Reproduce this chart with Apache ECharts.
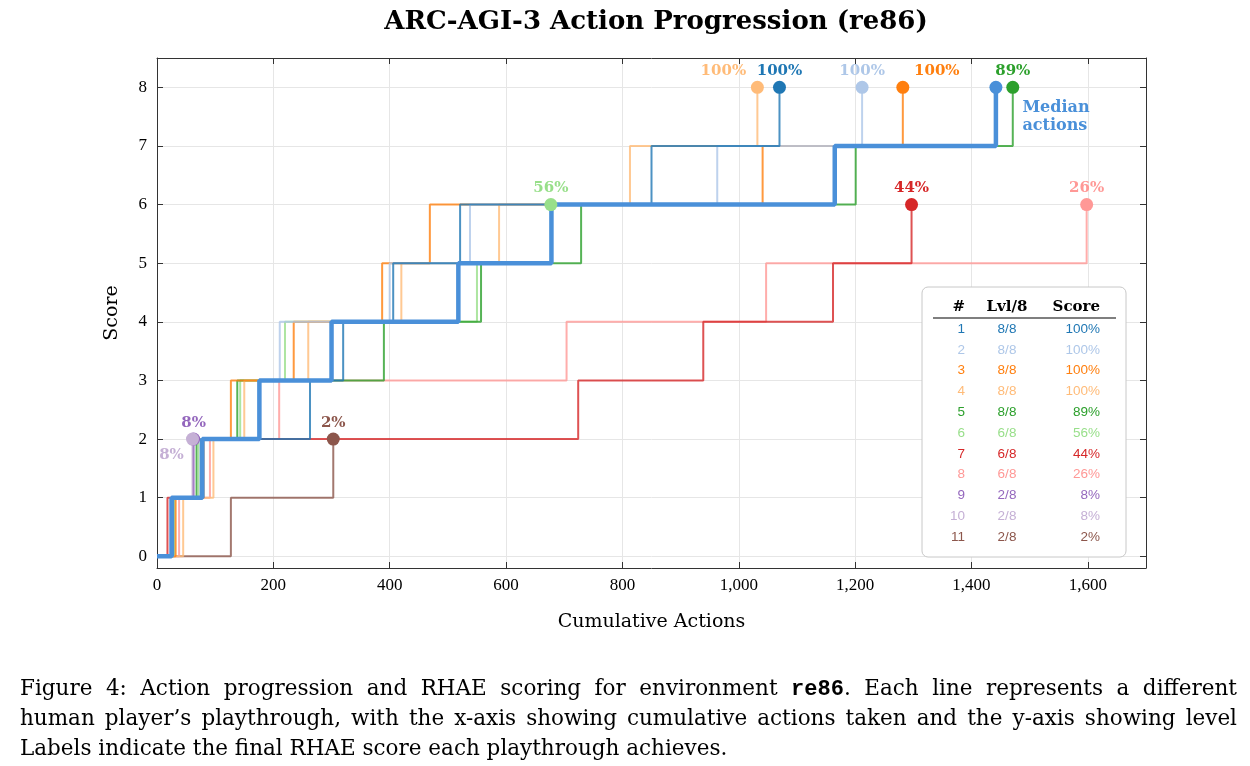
<!DOCTYPE html>
<html>
<head>
<meta charset="utf-8">
<script src="https://cdn.jsdelivr.net/npm/echarts@6.0.0/dist/echarts.min.js"></script>
<style>
  html, body { margin: 0; padding: 0; background: #fff; }
  #chart { width: 1250px; height: 766px; }
  .cap { position: absolute; left: 20px; width: 1217px; font-family: 'DejaVu Serif', serif; font-size: 21.5px; line-height: 30px; color: #000; white-space: nowrap; }
  .just { text-align: justify; text-align-last: justify; }
  .tt { font-family: 'Liberation Mono', monospace; font-weight: bold; font-size: 22px; }
</style>
</head>
<body>
<div id="chart"></div>
<div class="cap just" style="top:673px">Figure 4: Action progression and RHAE scoring for environment <span class="tt">re86</span>. Each line represents a different</div>
<div class="cap just" style="top:703px">human player’s playthrough, with the x-axis showing cumulative actions taken and the y-axis showing level</div>
<div class="cap" style="top:733px">Labels indicate the final RHAE score each playthrough achieves.</div>
<script>
// tick labels
const xTicks = [0, 200, 400, 600, 800, 1000, 1200, 1400, 1600]
const yTicks = [0, 1, 2, 3, 4, 5, 6, 7, 8]

// cumulative actions at which level 1, 2, 3 ... was reached
const p1 = [27, 76, 263, 320, 406, 521, 850, 1070]
const p2 = [28, 74, 175, 211, 400, 538, 963, 1212]
const p3 = [32, 80, 127, 235, 387, 469, 1041, 1282]
const p4 = [45, 97, 150, 260, 420, 588, 813, 1032]
const p5 = [28, 68, 138, 390, 557, 729, 1201, 1471]
const p6 = [30, 72, 143, 220, 550, 677]
const p7 = [18, 78, 724, 939, 1162, 1297]
const p8 = [38, 91, 210, 704, 1047, 1598]
const p9 = [25, 63]
const p10 = [24, 61]
const p11 = [127, 303]
const median = [25, 78, 176, 300, 518, 678, 1165, 1442]

const players = [p1, p2, p3, p4, p5, p6, p7, p8, p9, p10, p11]
const playerIds = ['1', '2', '3', '4', '5', '6', '7', '8', '9', '10', '11']
const scores = ['100%', '100%', '100%', '100%', '89%', '56%', '44%', '26%', '8%', '8%', '2%']

const colors = ['#1f77b4', '#aec7e8', '#ff7f0e', '#ffbb78', '#2ca02c', '#98df8a',
  '#d62728', '#ff9896', '#9467bd', '#c5b0d5', '#8c564b']
const medianColor = '#4a90d9'

// label nudges so the end labels do not collide
const labelOffsets = { 2: [34, 0], 3: [-34, 0], 9: [-21, 32] }

const toSteps = (steps) => [[0, 0]].concat(steps.map((x, i) => [x, i + 1]))

const serif = '"DejaVu Serif", serif'
const axisColor = '#333'

const lineSeries = players.map((steps, i) => ({
  name: 'Player ' + playerIds[i],
  type: 'line',
  step: 'end',
  symbol: 'none',
  z: 2,
  lineStyle: { color: colors[i], width: 2, opacity: 0.8 },
  data: toSteps(steps)
}))

const endPoints = {
  type: 'scatter',
  symbolSize: 13,
  z: 5,
  data: players.map((steps, i) => ({
    value: [steps[steps.length - 1], steps.length],
    itemStyle: { color: colors[i], opacity: 1 },
    label: {
      show: true,
      position: 'top',
      distance: 2,
      formatter: scores[i],
      color: colors[i],
      offset: labelOffsets[i] || [0, 0],
      fontFamily: serif,
      fontWeight: 'bold',
      fontSize: 15
    }
  }))
}

const medianSeries = [
  {
    name: 'Median',
    type: 'line',
    step: 'end',
    symbol: 'none',
    z: 3,
    lineStyle: { color: medianColor, width: 4.5 },
    data: toSteps(median)
  },
  {
    type: 'scatter',
    symbolSize: 13,
    z: 5,
    itemStyle: { color: medianColor, opacity: 1 },
    label: {
      show: true,
      position: 'right',
      distance: 5,
      offset: [15, 30],
      formatter: 'Median\nactions',
      color: medianColor,
      align: 'left',
      lineHeight: 18,
      fontFamily: serif,
      fontWeight: 'bold',
      fontSize: 16
    },
    data: [[median[median.length - 1], median.length]]
  }
]

// score table
const tbl = { left: 922, top: 287, width: 204, height: 270, rowTop: 329, rowGap: 20.8 }
const txt = (text, x, y, align, fill, font) => ({
  type: 'text', z: 101,
  style: { text, x, y, fill, font, align, verticalAlign: 'middle', textAlign: align, textVerticalAlign: 'middle' }
})
const headFont = 'bold 15px "DejaVu Serif"'
const cellFont = '13.5px "Liberation Sans"'
const tableGraphic = [
  { type: 'rect', z: 100, shape: { x: tbl.left, y: tbl.top, width: tbl.width, height: tbl.height, r: 6 },
    style: { fill: '#fff', stroke: '#c8c8c8', lineWidth: 1 } },
  txt('#', 965, 307, 'right', '#000', headFont),
  txt('Lvl/8', 1007, 307, 'center', '#000', headFont),
  txt('Score', 1100, 307, 'right', '#000', headFont),
  { type: 'line', z: 101, shape: { x1: 933, y1: 318, x2: 1116, y2: 318 }, style: { stroke: '#000', lineWidth: 1.2 } }
]
players.forEach((steps, i) => {
  const y = tbl.rowTop + i * tbl.rowGap
  tableGraphic.push(txt(playerIds[i], 965, y, 'right', colors[i], cellFont))
  tableGraphic.push(txt(steps.length + '/8', 1007, y, 'center', colors[i], cellFont))
  tableGraphic.push(txt(scores[i], 1100, y, 'right', colors[i], cellFont))
})

const baseAxis = {
  type: 'value',
  axisLine: { show: true, onZero: false, lineStyle: { color: axisColor, width: 1 } },
  axisTick: { show: true, inside: true, length: 6, lineStyle: { color: axisColor } }
}

const chart = echarts.init(document.getElementById('chart'), null, { renderer: 'canvas' })
chart.setOption({
  backgroundColor: '#fff',
  animation: false,
  title: {
    text: 'ARC-AGI-3 Action Progression (re86)',
    left: 651,
    top: 4,
    textAlign: 'center',
    textStyle: { fontFamily: serif, fontWeight: 'bold', fontSize: 26, color: '#000' }
  },
  grid: { left: 157, right: 104, top: 58, bottom: 198 },
  xAxis: [
    {
      ...baseAxis,
      position: 'bottom',
      min: 0,
      max: 1700,
      axisTick: { ...baseAxis.axisTick, customValues: xTicks },
      axisLabel: {
        customValues: xTicks,
        color: '#000',
        fontFamily: '"Liberation Serif", serif',
        fontSize: 17,
        margin: 9,
        formatter: (v) => v.toLocaleString('en-US')
      },
      splitLine: { show: true, lineStyle: { color: '#e6e6e6', width: 1 } },
      name: 'Cumulative Actions',
      nameLocation: 'middle',
      nameGap: 45,
      nameTextStyle: { fontFamily: serif, fontSize: 19, color: '#000' }
    },
    {
      ...baseAxis,
      position: 'top',
      min: 0,
      max: 1700,
      axisTick: { ...baseAxis.axisTick, customValues: xTicks },
      axisLabel: { show: false },
      splitLine: { show: false }
    }
  ],
  yAxis: [
    {
      ...baseAxis,
      position: 'left',
      min: -0.2,
      max: 8.5,
      axisTick: { ...baseAxis.axisTick, customValues: yTicks },
      axisLabel: {
        customValues: yTicks,
        color: '#000',
        fontFamily: '"Liberation Serif", serif',
        fontSize: 17,
        margin: 10
      },
      splitLine: { show: true, lineStyle: { color: '#e6e6e6', width: 1 } },
      name: 'Score',
      nameLocation: 'middle',
      nameGap: 35,
      nameRotate: 90,
      nameTextStyle: { fontFamily: serif, fontSize: 19, color: '#000' }
    },
    {
      ...baseAxis,
      position: 'right',
      min: -0.2,
      max: 8.5,
      axisTick: { ...baseAxis.axisTick, customValues: yTicks },
      axisLabel: { show: false },
      splitLine: { show: false }
    }
  ],
  series: [...lineSeries.slice().reverse(), ...medianSeries, endPoints],
  graphic: tableGraphic
})
</script>
</body>
</html>
